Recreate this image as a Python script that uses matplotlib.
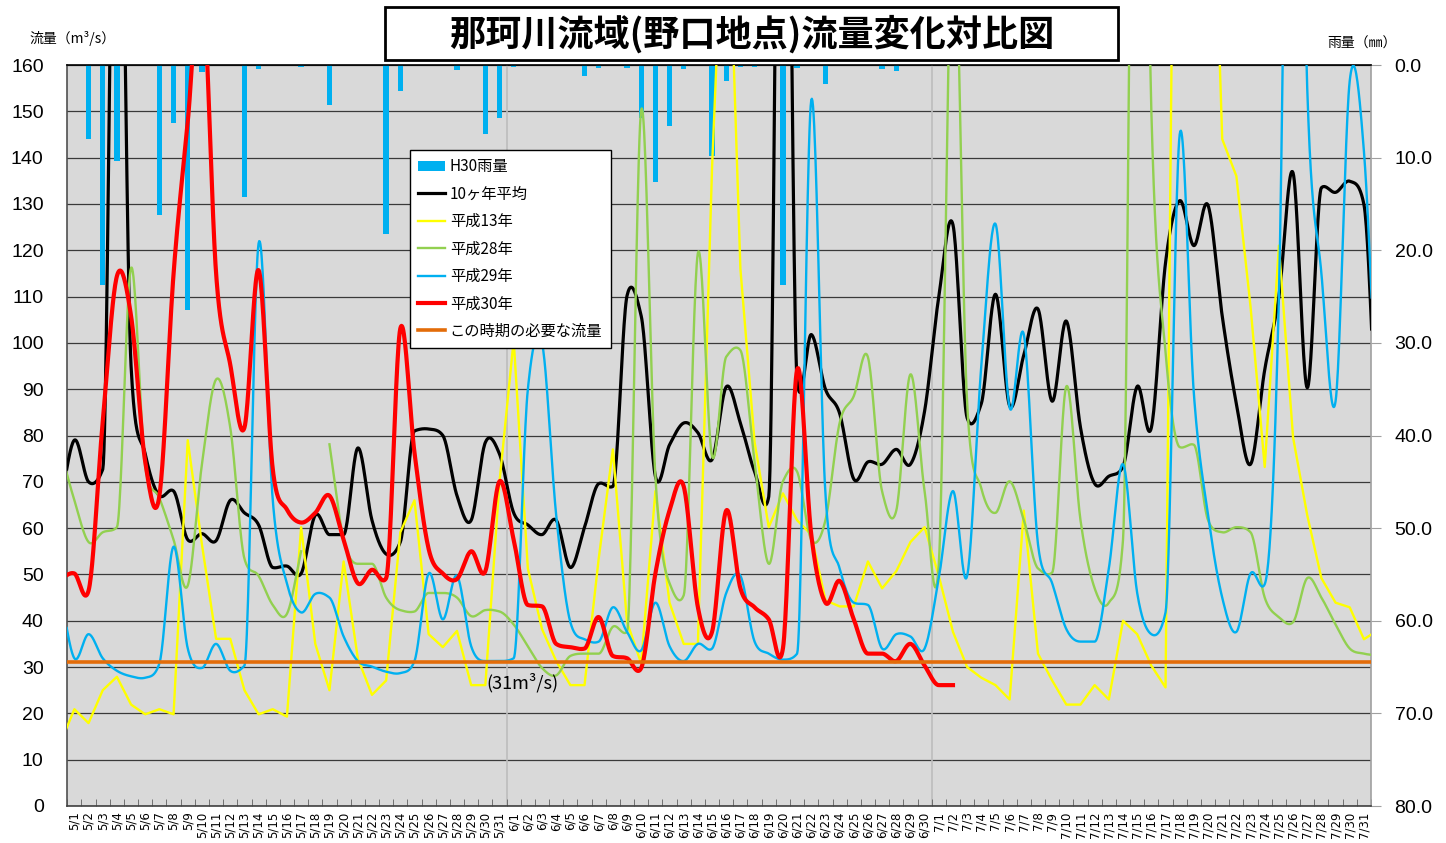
import numpy as np
import matplotlib
matplotlib.use('Agg')
import matplotlib.pyplot as plt
from matplotlib.patches import Rectangle, Patch
from matplotlib.lines import Line2D

plt.rcParams['font.family'] = ['Noto Sans CJK JP', 'DejaVu Sans']

# ---------------- data ----------------
dates = [f"{m}/{d}" for m, n in ((5, 31), (6, 30), (7, 31)) for d in range(1, n + 1)]

# 10ヶ年平均 (5/1 - 7/31)
avg10 = [79, 70, 72.7, 250, 95, 76, 67, 68, 57.5, 58.8,
         57.3, 66, 63.3, 60.7, 51.5, 51.8, 50.2, 62.8, 58.6, 58.6,
         77.3, 61.7, 54.4, 57, 81, 81.4, 80, 67, 61.7, 78.5,
         76, 63.3, 60.7, 58.6, 61.7, 51.5, 60.2, 69.6, 69, 110.2,
         105.8, 71.2, 78, 82.7, 80.6, 74.8, 90.5, 82.7, 72.2, 66.8,
         300, 92, 101.8, 90, 84.8, 70.6, 74.3, 73.8, 77, 73.8,
         85.3, 110, 125.5, 83.8, 86.9, 110.5, 86.4, 97.4, 107.3, 87.4,
         104.7, 81.7, 69.6, 71.2, 73.3, 90.6, 81.7, 117.3, 130.7, 121,
         129.7, 105.8, 86.9, 73.8, 94.2, 110, 136.7, 90.3, 133.5, 132.5,
         134.9, 129.9]
avg10_edges = (65, 71)          # values just outside the plotted range (4/30, 8/1)

# 平成13年
h13 = [20.9, 17.9, 25, 27.9, 21.9, 19.8, 20.9, 19.8, 79, 56.5,
       36.1, 36.1, 25, 19.8, 20.9, 19.3, 60.2, 35, 25, 52.8,
       31.9, 24, 27.1, 59.1, 66, 37.1, 34.3, 37.8, 26.1, 26.1,
       70, 100.6, 51.3, 38.2, 31.3, 26.1, 26.1, 53.4, 77, 39.7,
       30.8, 68, 43.9, 35, 35, 138, 211, 116, 78.6, 60.2,
       67.5, 61.7, 58.6, 44.4, 43.1, 43.1, 52.8, 47, 50.7, 57,
       60.2, 49.7, 37.6, 30, 27.7, 26.1, 23, 63.8, 32.9, 27.1,
       21.9, 21.9, 26.1, 23, 40, 37.1, 30.3, 25.6, 345, 300,
       240, 144, 136, 107.8, 73.2, 121, 79.6, 62.8, 49.2, 43.9,
       42.9, 36]
h13_edges = (13.5, 38)

# 平成28年 (5/18 missing)
h28 = [66, 57, 59.1, 60.2, 116.2, 73.3, 66.5, 57.5, 47.6, 73.8,
       92.1, 81.7, 53.4, 49.7, 43.4, 41.5, 55, np.nan, 78.1, 57.5,
       52.3, 52.3, 45, 42.3, 42, 46, 46, 45, 41, 42.3,
       42, 39.2, 34.5, 29.8, 28.2, 32.4, 32.9, 32.9, 38.7, 37.6,
       150.3, 71.2, 48.1, 45.5, 119.4, 75.5, 97, 98.4, 74.3, 52.3,
       70.1, 72.2, 57.5, 61.7, 82.7, 88.5, 96.9, 67.9, 63.8, 93.2,
       67.9, 52.3, 195, 87, 68.6, 63.3, 70.1, 61.7, 51.3, 50.4,
       90.6, 61.7, 47, 43.9, 57.5, 320, 150, 98, 77.5, 78,
       61.7, 59.1, 60.2, 59.1, 45, 40.8, 39.7, 49.2, 45, 39.2,
       34, 32.9]
h28_edges = (77, 32.5)

# 平成29年
h29 = [31.9, 37.1, 31.9, 29.2, 28, 27.7, 30.8, 56, 34, 29.8,
       35, 29.2, 30.3, 121.5, 66, 48, 41.8, 45.8, 45, 36.6,
       31.3, 30.1, 29, 28.7, 31.3, 50.2, 40.3, 49.7, 34.5, 31.3,
       31.3, 31.9, 90, 100, 62.8, 39.7, 36, 35.5, 42.9, 37.6,
       33.6, 43.9, 34.5, 31.3, 35, 34, 46, 49.7, 35.5, 32.9,
       31.6, 32.9, 152.4, 67.4, 51.3, 43.9, 43.4, 34, 37.1, 36.6,
       34, 49.2, 68, 49.7, 95, 125.7, 86, 101.8, 56.5, 48.1,
       38.2, 35.5, 35.5, 51.3, 73.8, 46, 37.1, 41.8, 145, 89,
       62.8, 45, 37.6, 50.2, 47.9, 110, 300, 155, 115, 87.4,
       156.6, 141.4]
h29_edges = (46, 78)

# 平成30年 (5/1 - 7/2)
h30 = [50.2, 46.5, 83, 114.4, 105.8, 74.3, 67, 115, 147.7, 180,
       115, 95.3, 81.7, 115.7, 72.7, 64, 61.2, 63.3, 67, 57.5,
       48.1, 51, 49.2, 103.1, 76.3, 55.5, 50.2, 49, 55, 50.7,
       70.1, 57.5, 43.4, 43.1, 35, 34.3, 34, 40.8, 32.4, 31.9,
       29.8, 50.2, 63.8, 69, 42.9, 37.6, 63.8, 47, 42.9, 40.3,
       34, 94.2, 58.6, 43.9, 48.6, 40.3, 32.9, 32.9, 31.3, 35,
       30.3, 26.1, 26.1]
h30_edge_before = 49

# H30雨量 (mm)
rain_h30 = [0, 8.0, 23.7, 10.4, 0, 0, 16.2, 6.3, 26.5, 0.8,
            0, 0, 14.2, 0.4, 0, 0, 0.2, 0, 4.3, 0,
            0, 0, 18.2, 2.8, 0, 0, 0, 0.5, 0, 7.4,
            5.7, 0.2, 0, 0, 0, 0, 1.2, 0.3, 0, 0.3,
            5.7, 12.6, 6.6, 0.4, 0, 9.8, 1.7, 0.2, 0.2, 0,
            23.7, 0.3, 0, 2.1, 0, 0, 0, 0.4, 0.6, 0,
            0, 0, 0, 0, 0, 0, 0, 0, 0, 0,
            0, 0, 0, 0, 0, 0, 0, 0, 0, 0,
            0, 0, 0, 0, 0, 0, 0, 0, 0, 0,
            0, 0]

required_flow = 31

left_ticks = list(range(0, 161, 10))
right_ticks = list(range(0, 81, 10))

# ---------------- helpers ----------------
def smooth_xy(x, y, n=24):
    x = np.asarray(x, float)
    y = np.asarray(y, float)
    m = len(y)
    d = np.diff(y)
    t = np.zeros(m)
    for i in range(m):
        if i == 0:
            t[i] = d[0]
        elif i == m - 1:
            t[i] = d[-1]
        else:
            t[i] = 0.5 * (y[i + 1] - y[i - 1])
            lim = 3 * min(abs(d[i - 1]), abs(d[i]))
            t[i] = np.clip(t[i], -lim, lim)
    s = np.linspace(0, 1, n, endpoint=False)
    h00 = 2 * s**3 - 3 * s**2 + 1
    h10 = s**3 - 2 * s**2 + s
    h01 = -2 * s**3 + 3 * s**2
    h11 = s**3 - s**2
    xs, ys = [], []
    for i in range(m - 1):
        hx = x[i + 1] - x[i]
        xs.append(x[i] + s * hx)
        ys.append(h00 * y[i] + h10 * t[i] + h01 * y[i + 1] + h11 * t[i + 1])
    xs.append([x[-1]])
    ys.append([y[-1]])
    return np.concatenate(xs), np.concatenate(ys)


def draw_smooth(ax, x, y, **kw):
    x = np.asarray(x, float)
    y = np.asarray(y, float)
    idx = np.where(~np.isnan(y))[0]
    runs = np.split(idx, np.where(np.diff(idx) != 1)[0] + 1)
    for r in runs:
        if len(r) >= 2:
            xs, ys = smooth_xy(x[r], y[r])
            ax.plot(xs, ys, **kw)


def with_edges(vals, edges):
    return [edges[0]] + list(vals) + [edges[1]]


# ---------------- figure ----------------
W, H = 1446, 843
fig = plt.figure(figsize=(W / 100, H / 100), dpi=100)
L, R, T, B = 67.3, 1371, 65, 806
ax = fig.add_axes([L / W, 1 - B / H, (R - L) / W, (B - T) / H])
ax2 = ax.twinx()
ax.set_zorder(ax2.get_zorder() + 1)
ax.patch.set_visible(False)
ax2.patch.set_visible(True)
ax2.patch.set_facecolor('#D9D9D9')

n = len(dates)
x = np.arange(n)
x_ext = np.arange(-1, n + 1)

# secondary axis: rainfall bars hanging from the top
ax2.set_ylim(80, 0)
ax2.set_yticks(right_ticks)
ax2.set_yticklabels([f"{v:.1f}" for v in right_ticks], fontsize=14, family='Liberation Sans')
ax2.set_yticks(np.arange(5, 80, 10), minor=True)
ax2.grid(axis='y', which='both', color='#3a3a3a', lw=0.9)
ax2.set_axisbelow(True)
ax2.tick_params(axis='y', which='major', direction='out', length=7, color='#A0A0A0', pad=10)
ax2.tick_params(axis='y', which='minor', length=0)
for v in (30.5, 60.5):
    ax2.axvline(v, color='#BDBDBD', lw=1.2, zorder=1)
ax2.bar(x, rain_h30, width=0.38, color='#00B0F0', zorder=2)
for s in ax2.spines.values():
    s.set_visible(False)

# primary axis: flows
draw_smooth(ax, x_ext, with_edges(avg10, avg10_edges), color='black', lw=2.3, zorder=3)
ax.plot(x_ext, with_edges(h13, h13_edges), color='#FFFF00', lw=1.7, zorder=4)
draw_smooth(ax, x_ext, with_edges(h28, h28_edges), color='#92D050', lw=1.7, zorder=5)
draw_smooth(ax, x_ext, with_edges(h29, h29_edges), color='#00B0F0', lw=1.7, zorder=6)
draw_smooth(ax, np.arange(-1, len(h30)), [h30_edge_before] + h30, color='#FF0000', lw=3.0, zorder=7)
ax.axhline(required_flow, color='#E36C09', lw=2.6, zorder=8)

ax.set_xlim(-0.5, n - 0.5)
ax.set_ylim(0, 160)
ax.set_yticks(left_ticks)
ax.set_yticklabels([str(v) for v in left_ticks], fontsize=14, family='Liberation Sans')
ax.tick_params(axis='y', length=0, pad=17)
ax.set_xticks(x)
ax.set_xticklabels(dates, rotation=90, fontsize=8.5, family='DejaVu Sans')
ax.tick_params(axis='x', which='major', length=0, pad=4)
ax.set_xticks(np.arange(-0.5, n, 1), minor=True)
ax.tick_params(axis='x', which='minor', direction='in', length=5, color='#606060')

ax.spines['top'].set_color('black')
ax.spines['left'].set_color('#505050')
ax.spines['bottom'].set_color('#404040')
ax.spines['right'].set_color('#A0A0A0')
for s in ax.spines.values():
    s.set_linewidth(1.2)

ax.text(31.6, 26.6, '(31m³/s)', ha='center', va='center', fontsize=13, zorder=10)

# legend
handles = [Patch(facecolor='#00B0F0', edgecolor='none'),
           Line2D([], [], color='black', lw=2.3),
           Line2D([], [], color='#FFFF00', lw=1.7),
           Line2D([], [], color='#92D050', lw=1.7),
           Line2D([], [], color='#00B0F0', lw=1.7),
           Line2D([], [], color='#FF0000', lw=3.0),
           Line2D([], [], color='#E36C09', lw=2.6)]
labels = ['H30雨量', '10ヶ年平均', '平成13年', '平成28年', '平成29年', '平成30年', 'この時期の必要な流量']
leg = ax.legend(handles, labels, loc='upper left', bbox_to_anchor=(410 / W, 1 - 150 / H),
                bbox_transform=fig.transFigure, fontsize=11, frameon=True, fancybox=False,
                edgecolor='black', framealpha=1, borderpad=0.55, labelspacing=0.68,
                handlelength=1.75, handletextpad=0.3, borderaxespad=0)
leg.get_frame().set_linewidth(1.0)
leg.set_zorder(20)

# axis titles
fig.text(73 / W, 1 - 38 / H, '流量（m³/s）', ha='center', va='center', fontsize=10)
fig.text(1362 / W, 1 - 44 / H, '雨量（㎜）', ha='center', va='center', fontsize=10)

# title box
fig.add_artist(Rectangle((385 / W, 1 - 60 / H), (1118 - 385) / W, 53 / H, transform=fig.transFigure,
                         facecolor='white', edgecolor='black', lw=2))
fig.text(752 / W, 1 - 34 / H, '那珂川流域(野口地点)流量変化対比図', ha='center', va='center',
         fontsize=26, weight='bold')

fig.savefig('out.png', dpi=100)
